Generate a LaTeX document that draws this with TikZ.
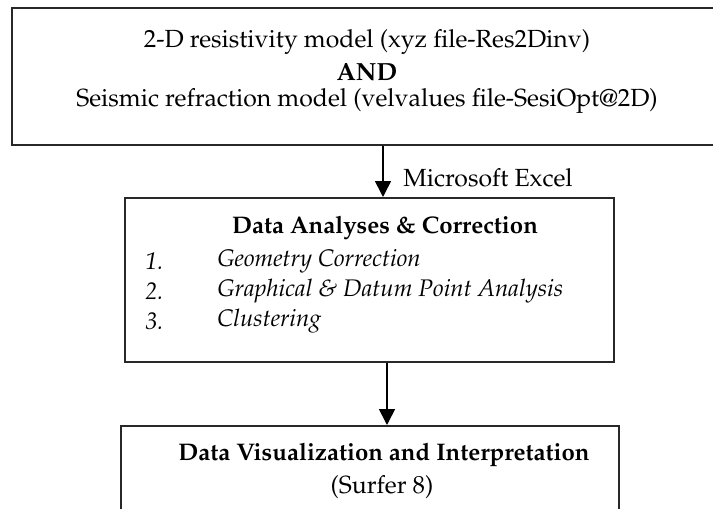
\documentclass[tikz,border=0pt]{standalone}
\usepackage[T1]{fontenc}
\renewcommand{\rmdefault}{ppl}
\usepackage{tikz}
\usepackage{xcolor}
\usetikzlibrary{arrows.meta,positioning}
\definecolor{boxline}{RGB}{40,40,40}

\begin{document}
\begin{tikzpicture}[x=0.5pt,y=-0.5pt,>={Triangle[length=8pt,width=8pt]},
    box/.style={draw=boxline, line width=1pt, inner sep=0pt},
    txt/.style={font=\fontsize{12.4}{15}\selectfont, inner sep=0pt},
    smalltxt/.style={font=\fontsize{12}{15}\selectfont, inner sep=0pt}]
  \clip (0,0) rectangle (713,509);
  \fill[white] (0,0) rectangle (713,509);
  % boxes
  \node[box, minimum width=356pt, minimum height=68.5pt] (models) at (368,76.5) {};
  \node[box, minimum width=244.5pt, minimum height=82pt] (analysis) at (369.5,280) {};
  \node[box, minimum width=249pt, minimum height=70pt] (visual) at (370,496) {};
  % top box text
  \node[txt] (resline) at (367,42) {2-D resistivity model (xyz file-Res2Dinv)};
  \node[txt] (andline) at (367,72) {\textbf{AND}};
  \node[txt] (sesline) at (367,101) {Seismic refraction model (velvalues file-SesiOpt@2D)};
  % middle box text
  \node[smalltxt] (antitle) at (385,228) {\textbf{Data Analyses \& Correction}};
  \foreach \n/\t [count=\i] in {1./Geometry Correction, 2./Graphical \& Datum Point Analysis, 3./Clustering} {
    \node[smalltxt, anchor=west] (num\i) at (145,{231+30*\i}) {\textit{\n}};
    \node[smalltxt, anchor=west] (item\i) at (217,{231+30*\i}) {\textit{\t}};
  }
  % bottom box text
  \node[smalltxt] (vistitle) at (384,455) {\textbf{Data Visualization and Interpretation}};
  \node[txt] (surfer) at (382,487) {(Surfer 8)};
  % arrows
  \draw[->, line width=0.8pt] (models.south -| 383,0) -- (analysis.north -| 383,0);
  \node[txt, anchor=west] (excel) at (403,178) {Microsoft Excel};
  \draw[->, line width=0.8pt] (analysis.south -| 387,0) -- (visual.north -| 387,0);
\end{tikzpicture}
\end{document}
